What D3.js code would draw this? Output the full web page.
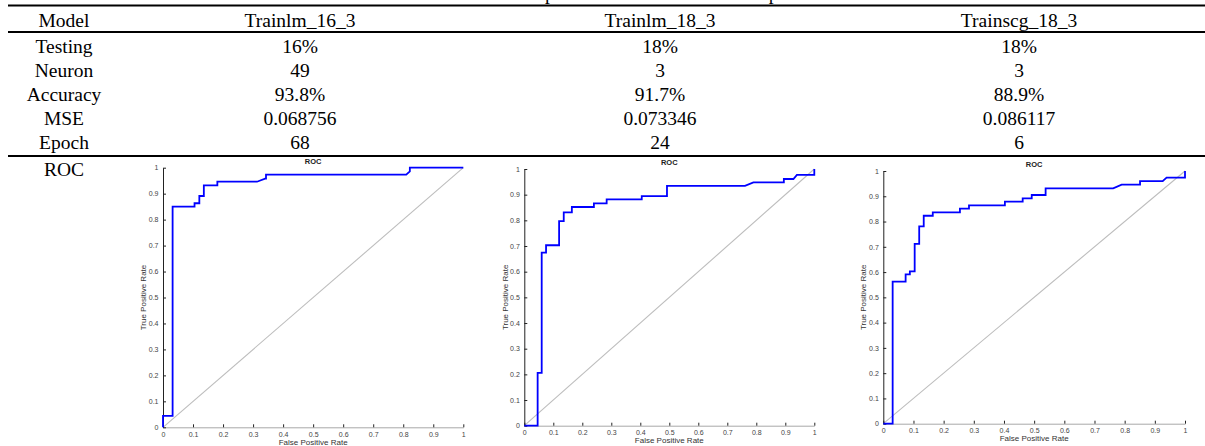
<!DOCTYPE html>
<html><head><meta charset="utf-8">
<script src="https://cdn.jsdelivr.net/npm/d3@7"></script>
<style>body{margin:0;background:#fff}svg{display:block}</style>
</head><body>
<script>
// ---------- data ----------
const caption = "Table 4. Comparison of the three best samples";
const models = ["Trainlm_16_3", "Trainlm_18_3", "Trainscg_18_3"];
const rowLabels = ["Testing", "Neuron", "Accuracy", "MSE", "Epoch"];
const testing = ["16%", "18%", "18%"];
const neuron = ["49", "3", "3"];
const accuracy = ["93.8%", "91.7%", "88.9%"];
const mse = ["0.068756", "0.073346", "0.086117"];
const epoch = ["68", "24", "6"];
const tickValues = [0, 0.1, 0.2, 0.3, 0.4, 0.5, 0.6, 0.7, 0.8, 0.9, 1];

const roc1Fpr = [0, 0, 0.032, 0.032, 0.105, 0.105, 0.121, 0.121, 0.136, 0.136, 0.181, 0.181, 0.313, 0.34, 0.343, 0.343, 0.81, 0.822, 0.822, 1];
const roc1Tpr = [0, 0.044, 0.044, 0.85, 0.85, 0.863, 0.863, 0.891, 0.891, 0.932, 0.932, 0.946, 0.946, 0.958, 0.958, 0.973, 0.973, 0.986, 1, 1];
const roc2Fpr = [0, 0.046, 0.046, 0.060, 0.060, 0.075, 0.075, 0.12, 0.12, 0.136, 0.136, 0.164, 0.164, 0.24, 0.24, 0.284, 0.284, 0.405, 0.405, 0.492, 0.492, 0.761, 0.79, 0.895, 0.895, 0.928, 0.94, 1, 1];
const roc2Tpr = [0, 0, 0.206, 0.206, 0.674, 0.674, 0.703, 0.703, 0.797, 0.797, 0.831, 0.831, 0.852, 0.852, 0.866, 0.866, 0.882, 0.882, 0.894, 0.894, 0.934, 0.934, 0.948, 0.948, 0.961, 0.961, 0.977, 0.977, 1];
const roc3Fpr = [0, 0.031, 0.031, 0.074, 0.074, 0.088, 0.088, 0.104, 0.104, 0.119, 0.119, 0.134, 0.134, 0.164, 0.164, 0.254, 0.254, 0.284, 0.284, 0.403, 0.403, 0.462, 0.462, 0.492, 0.492, 0.538, 0.538, 0.762, 0.79, 0.851, 0.851, 0.926, 0.939, 1, 1];
const roc3Tpr = [0, 0, 0.562, 0.562, 0.591, 0.591, 0.603, 0.603, 0.712, 0.712, 0.781, 0.781, 0.823, 0.823, 0.836, 0.836, 0.851, 0.851, 0.864, 0.864, 0.879, 0.879, 0.892, 0.892, 0.905, 0.905, 0.931, 0.931, 0.946, 0.946, 0.96, 0.96, 0.974, 0.974, 1];

// ---------- layout ----------
const W = 1205, H = 446;
const svg = d3.select("body").append("svg").attr("width", W).attr("height", H);
const serif = "'Liberation Serif','Times New Roman',serif";
const sans = "'Liberation Sans',Arial,sans-serif";
const fs = 19.5;

const colX = [300, 660, 1019];
const labelX = 64;

// caption, cropped at the top edge as in the reference
svg.append("text").attr("x", 620).attr("y", -0.5).attr("text-anchor", "middle")
  .attr("font-family", serif).attr("font-size", fs).attr("fill", "#000").text(caption);

// rules
const rule = (y, w) => svg.append("line").attr("x1", 8).attr("x2", W).attr("y1", y).attr("y2", y)
  .attr("stroke", "#000").attr("stroke-width", w);
rule(5.5, 2.2); rule(32, 2); rule(156, 2.2);

const txt = (x, y, s) => svg.append("text").attr("x", x).attr("y", y).attr("text-anchor", "middle")
  .attr("font-family", serif).attr("font-size", fs).attr("fill", "#000").text(s);

txt(labelX, 27, "Model");
models.forEach((m, i) => txt(colX[i], 27, m));
const rowsY = [53, 77, 100.5, 125, 149];
const rowData = [testing, neuron, accuracy, mse, epoch];
rowLabels.forEach((r, j) => {
  txt(labelX, rowsY[j], r);
  rowData[j].forEach((v, i) => txt(colX[i], rowsY[j], v));
});
txt(labelX, 176, "ROC");

// ---------- ROC panels ----------
const panels = [
  {fpr: roc1Fpr, tpr: roc1Tpr, x0: 163, x1: 463.3, y0: 427.3, y1: 167.7, ylx: 143},
  {fpr: roc2Fpr, tpr: roc2Tpr, x0: 524.3, x1: 814.3, y0: 425.7, y1: 169, ylx: 505},
  {fpr: roc3Fpr, tpr: roc3Tpr, x0: 883.3, x1: 1185, y0: 423.7, y1: 171, ylx: 863.5}
];

panels.forEach(p => {
  const x = d3.scaleLinear().domain([0, 1]).range([p.x0, p.x1]);
  const y = d3.scaleLinear().domain([0, 1]).range([p.y0, p.y1]);
  const g = svg.append("g");

  // diagonal
  g.append("path").attr("d", d3.line()([[x(0), y(0)], [x(1), y(1)]]))
    .attr("stroke", "#bdbdbd").attr("stroke-width", 1.1).attr("fill", "none");

  // x axis
  const xa = g.append("g").attr("transform", `translate(0,${p.y0})`)
    .call(d3.axisBottom(x).tickValues(tickValues).tickFormat(d3.format("")).tickSizeInner(-3).tickSizeOuter(0).tickPadding(4.5));
  xa.select(".domain").attr("stroke", "#a8a8a8").attr("stroke-width", 1);
  xa.selectAll(".tick line").attr("stroke", "#222");
  xa.selectAll("text").attr("font-family", sans).attr("font-size", 7).attr("fill", "#444");

  // y axis
  const ya = g.append("g").attr("transform", `translate(${p.x0},0)`)
    .call(d3.axisLeft(y).tickValues(tickValues).tickFormat(d3.format("")).tickSizeInner(-3).tickSizeOuter(0).tickPadding(4.5));
  ya.select(".domain").attr("stroke", "#222").attr("stroke-width", 1);
  ya.selectAll(".tick line").attr("stroke", "#222");
  ya.selectAll("text").attr("font-family", sans).attr("font-size", 7).attr("fill", "#444");

  // curve
  const pts = p.fpr.map((f, i) => [x(f), y(p.tpr[i])]);
  g.append("path").attr("d", d3.line()(pts)).attr("stroke", "#0000ff").attr("stroke-width", 1.8)
    .attr("fill", "none").attr("stroke-linejoin", "miter");

  // labels
  g.append("text").attr("x", (p.x0 + p.x1) / 2).attr("y", p.y1 - 4).attr("text-anchor", "middle")
    .attr("font-family", sans).attr("font-size", 7.5).attr("font-weight", "bold").attr("fill", "#222").text("ROC");
  g.append("text").attr("x", (p.x0 + p.x1) / 2).attr("y", p.y0 + 17.5).attr("text-anchor", "middle")
    .attr("font-family", sans).attr("font-size", 8).attr("fill", "#333").text("False Positive Rate");
  g.append("text").attr("transform", `translate(${p.ylx},${(p.y0 + p.y1) / 2}) rotate(-90)`)
    .attr("text-anchor", "middle").attr("dy", "0.35em")
    .attr("font-family", sans).attr("font-size", 8).attr("fill", "#333").text("True Positive Rate");
});
</script>
</body></html>
